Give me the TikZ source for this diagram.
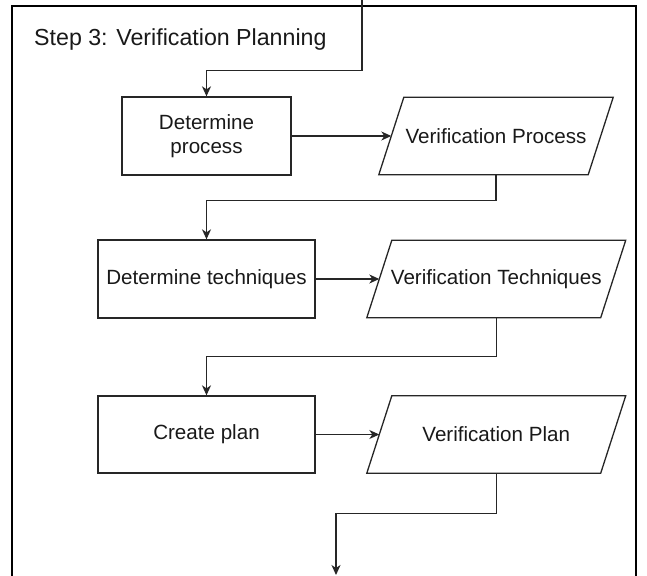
\documentclass[tikz,border=0pt]{standalone}
\usepackage{fontspec}
\setmainfont{Liberation Sans}
\usetikzlibrary{arrows.meta,calc}

\tikzset{
  x=1pt, y=-1pt,
  frame/.style={draw=black, line width=1.4pt},
  edge/.style={draw=black!85, line width=1.3pt},
  flow/.style={edge, -{Stealth[length=10pt,width=9pt,inset=3pt]}},
  txt/.style={font=\fontsize{20.6}{24.5}\selectfont, text=black!90, align=center, inner sep=0pt},
  procbox/.style={txt, draw=black!85, line width=1.3pt},
  databox/.style={txt, minimum height=77pt},
}

\begin{document}
\begin{tikzpicture}
  \useasboundingbox (0,0) rectangle (647,575);
  \clip (0,0) rectangle (647,575);

  % outer container of the step
  \draw[frame] (12,6) rectangle (636,620);
  \node[anchor=base west, inner sep=0pt, font=\fontsize{23.2}{27}\selectfont, text=black!90]
    (title) at (34,45.7) {Step 3: Verification Planning};

  % process steps
  \node[procbox, minimum width=169pt, minimum height=78pt] (dp) at (206.5,136) {Determine\\process};
  \node[procbox, minimum width=217pt, minimum height=78pt] (dt) at (206.5,279) {Determine techniques};
  \node[procbox, minimum width=217pt, minimum height=77pt] (cp) at (206.5,434.5) {Create plan};

  % data (parallelogram) outputs
  \node[databox, minimum width=209pt] (vp) at (496,136) {Verification Process};
  \node[databox, minimum width=233.5pt] (vt) at (496.25,279) {Verification Techniques};
  \node[databox, minimum width=233.5pt] (vpl) at (496.25,434.5) {Verification Plan};
  \foreach \n in {vp,vt,vpl}
    \draw[edge] ([xshift=12.5pt]\n.north west) -- ([xshift=12.5pt]\n.north east)
      -- ([xshift=-12.5pt]\n.south east) -- ([xshift=-12.5pt]\n.south west) -- cycle;

  % connectors
  \coordinate (in) at (362,0);
  \coordinate (out) at (336,575);
  \draw[flow] (in) |- ([yshift=26pt]dp.north) -- (dp.north);
  \draw[flow] (dp.east) -- (vp.west);
  \draw[flow] (vp.south) -- ++(0,26) -| (dt.north);
  \draw[flow] (dt.east) -- (vt.west);
  \draw[flow] (vt.south) -- ++(0,39) -| (cp.north);
  \draw[flow] (cp.east) -- (vpl.west);
  \draw[flow] (vpl.south) -- ++(0,40) -| (out);
\end{tikzpicture}
\end{document}
